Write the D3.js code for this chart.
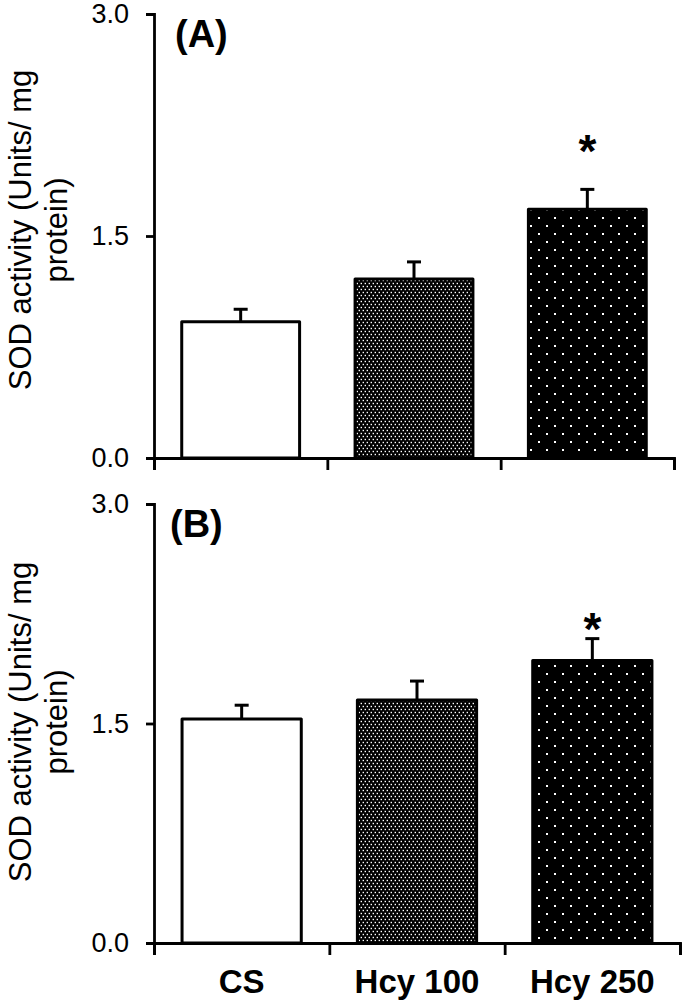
<!DOCTYPE html>
<html>
<head>
<meta charset="utf-8">
<script src="https://cdn.jsdelivr.net/npm/d3@7"></script>
<style>
  body { margin: 0; background: #fff; }
  svg { display: block; font-family: 'Liberation Sans', Arial, sans-serif; }
</style>
</head>
<body>
<div id="chart"></div>
<script>
'use strict';

// data
var groups = ['CS', 'Hcy 100', 'Hcy 250'];
var meanA = [0.92, 1.21, 1.68];
var semA = [0.085, 0.115, 0.135];
var meanB = [1.53, 1.66, 1.93];
var semB = [0.095, 0.13, 0.15];
var signifA = [false, false, true];
var signifB = [false, false, true];
var yTicks = [0, 1.5, 3.0];
var yTitle = ['SOD activity (Units/ mg', 'protein)'];

var svg = d3.select('#chart').append('svg')
  .attr('width', 683)
  .attr('height', 1004);

// fill patterns
var defs = svg.append('defs');

var dense = defs.append('pattern')
  .attr('id', 'dense')
  .attr('patternUnits', 'userSpaceOnUse')
  .attr('width', 4).attr('height', 6);
dense.append('rect').attr('width', 4).attr('height', 6).attr('fill', '#000');
dense.append('rect').attr('x', 0.6).attr('y', 0.8).attr('width', 1.4).attr('height', 1.4).attr('fill', '#fff');
dense.append('rect').attr('x', 2.6).attr('y', 3.8).attr('width', 1.4).attr('height', 1.4).attr('fill', '#fff');

var sparse = defs.append('pattern')
  .attr('id', 'sparse')
  .attr('patternUnits', 'userSpaceOnUse')
  .attr('width', 16).attr('height', 16);
sparse.append('rect').attr('width', 16).attr('height', 16).attr('fill', '#000');
sparse.append('rect').attr('x', 2).attr('y', 1).attr('width', 2).attr('height', 2).attr('fill', '#fff');
sparse.append('rect').attr('x', 10).attr('y', 9).attr('width', 2).attr('height', 2).attr('fill', '#fff');

var fills = ['#fff', 'url(#dense)', 'url(#sparse)'];

function drawPanel(cfg) {
  var g = svg.append('g');

  var y = d3.scaleLinear().domain([0, 3]).range([cfg.bottom, cfg.top]);
  var x = d3.scaleBand().domain(groups)
    .range([cfg.left, cfg.right])
    .paddingInner(0.32).paddingOuter(0.16);
  // tick marks sit on the category boundaries
  var xb = d3.scaleLinear().domain([0, groups.length]).range([cfg.left, cfg.right]);

  var rows = groups.map(function(d, i) {
    return { name: d, mean: cfg.mean[i], sem: cfg.sem[i], sig: cfg.sig[i], fill: fills[i] };
  });

  // bars
  g.selectAll('.bar')
    .data(rows)
    .enter()
    .append('rect')
    .attr('class', 'bar')
    .attr('x', function(d) { return x(d.name); })
    .attr('y', function(d) { return y(d.mean); })
    .attr('width', x.bandwidth())
    .attr('height', function(d) { return y(0) - y(d.mean); })
    .attr('fill', function(d) { return d.fill; })
    .attr('stroke', '#000')
    .attr('stroke-width', 3)
    .attr('stroke-linejoin', 'round');

  // upper error bars
  var err = g.selectAll('.err')
    .data(rows)
    .enter()
    .append('g')
    .attr('class', 'err')
    .attr('stroke', '#000')
    .attr('stroke-width', 3);
  err.append('line')
    .attr('x1', function(d) { return x(d.name) + x.bandwidth() / 2; })
    .attr('x2', function(d) { return x(d.name) + x.bandwidth() / 2; })
    .attr('y1', function(d) { return y(d.mean); })
    .attr('y2', function(d) { return y(d.mean + d.sem); });
  err.append('line')
    .attr('x1', function(d) { return x(d.name) + x.bandwidth() / 2 - 7; })
    .attr('x2', function(d) { return x(d.name) + x.bandwidth() / 2 + 7; })
    .attr('y1', function(d) { return y(d.mean + d.sem); })
    .attr('y2', function(d) { return y(d.mean + d.sem); });

  // asterisks
  g.selectAll('.sig')
    .data(rows.filter(function(d) { return d.sig; }))
    .enter()
    .append('text')
    .attr('class', 'sig')
    .attr('x', function(d) { return x(d.name) + x.bandwidth() / 2; })
    .attr('y', function(d) { return y(d.mean + d.sem) - cfg.starGap + 26; })
    .attr('text-anchor', 'middle')
    .attr('font-size', 46)
    .attr('font-weight', 'bold')
    .text('*');

  // y axis
  var yAxis = g.append('g')
    .attr('transform', 'translate(' + cfg.left + ',0)')
    .call(d3.axisLeft(y).tickValues(yTicks).tickFormat(d3.format('.1f'))
      .tickSize(8).tickPadding(17));
  // x axis
  var xAxis = g.append('g')
    .attr('transform', 'translate(0,' + cfg.bottom + ')')
    .call(d3.axisBottom(xb).ticks(groups.length).tickFormat('')
      .tickSize(12).tickSizeOuter(12));

  [yAxis, xAxis].forEach(function(a) {
    a.selectAll('path, line').attr('stroke', '#000').attr('stroke-width', 2.8);
  });
  yAxis.selectAll('text')
    .attr('fill', '#000')
    .attr('font-size', 27)
    .attr('font-family', "'Liberation Sans', Arial, sans-serif");

  // panel letter
  g.append('text')
    .attr('x', cfg.labelX)
    .attr('y', cfg.top + 33)
    .attr('font-size', 38)
    .attr('font-weight', 'bold')
    .text(cfg.label);

  // y title on two lines
  var t = g.append('text')
    .attr('transform', 'translate(31,' + cfg.titleY + ') rotate(-90)')
    .attr('text-anchor', 'middle')
    .attr('font-size', 31);
  t.selectAll('tspan')
    .data(yTitle)
    .enter()
    .append('tspan')
    .attr('x', 0)
    .attr('dy', function(d, i) { return i === 0 ? 0 : 36; })
    .text(function(d) { return d; });

  // category names under the lower panel only
  if (cfg.names) {
    g.selectAll('.cat')
      .data(rows)
      .enter()
      .append('text')
      .attr('class', 'cat')
      .attr('x', function(d) { return x(d.name) + x.bandwidth() / 2; })
      .attr('y', 993)
      .attr('text-anchor', 'middle')
      .attr('font-size', 33)
      .attr('font-weight', 'bold')
      .text(function(d) { return d.name; });
  }
}

drawPanel({ label: '(A)', labelX: 175, top: 14, bottom: 458, left: 154, right: 674,
  mean: meanA, sem: semA, sig: signifA, starGap: 48, titleY: 230, names: false });
drawPanel({ label: '(B)', labelX: 170, top: 504, bottom: 943, left: 154, right: 680,
  mean: meanB, sem: semB, sig: signifB, starGap: 20, titleY: 722, names: true });
</script>
</body>
</html>
